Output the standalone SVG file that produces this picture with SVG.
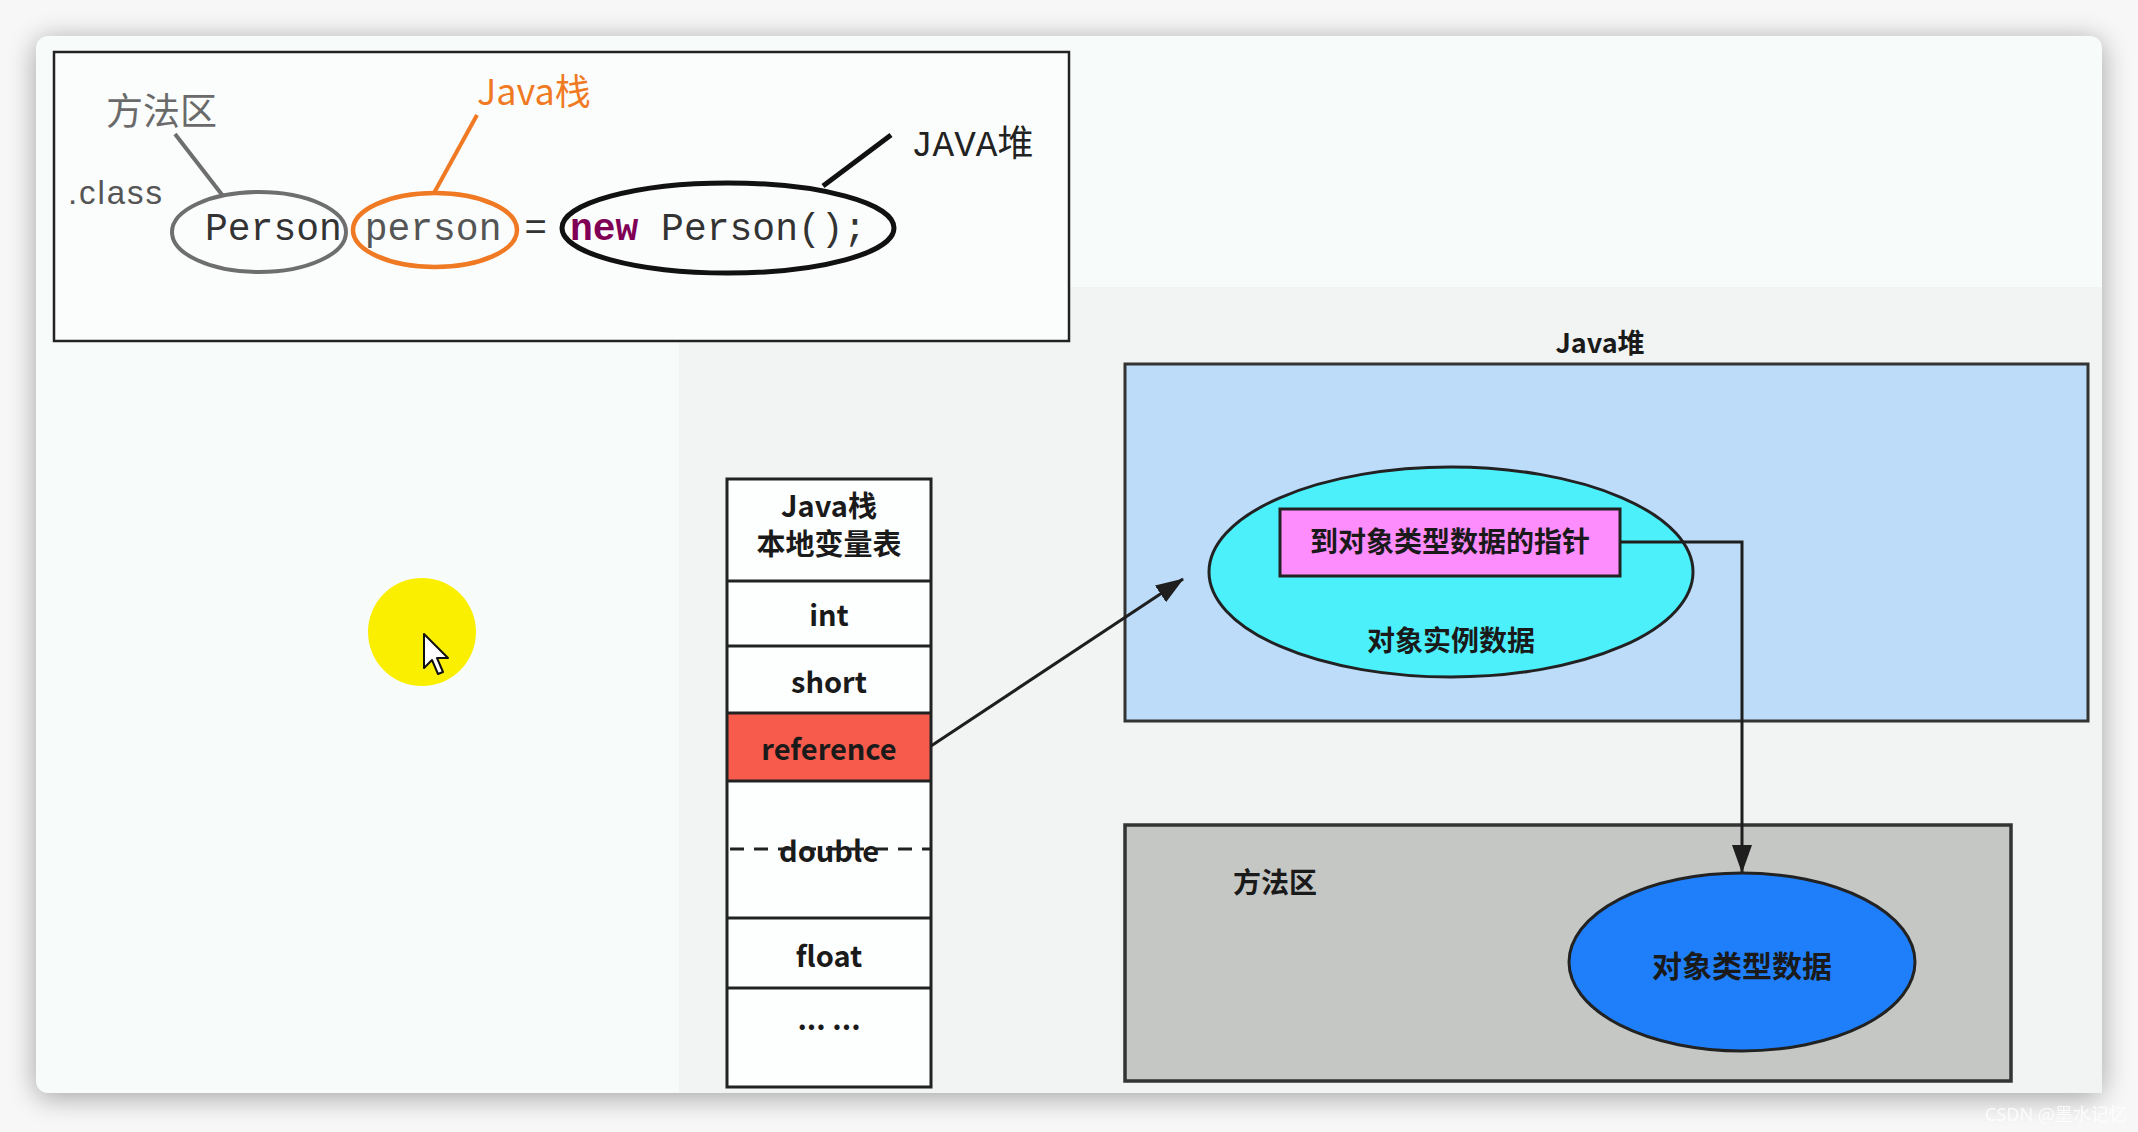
<svg xmlns="http://www.w3.org/2000/svg" width="2138" height="1132" viewBox="0 0 2138 1132">
  <defs>
    <filter id="shadow" x="-5%" y="-5%" width="110%" height="110%">
      <feGaussianBlur stdDeviation="14"/>
    </filter>
    <marker id="arrow" viewBox="0 0 28 20" refX="27" refY="10" markerWidth="28" markerHeight="20" markerUnits="userSpaceOnUse" orient="auto">
      <path d="M0,0 L28,10 L0,20 Z" fill="#1e1e1e"/>
    </marker>
    <style>
      .cjk { font-family: "Noto Sans CJK SC", "Liberation Sans", sans-serif; }
      .mono { font-family: "Liberation Mono", "DejaVu Sans Mono", monospace; }
      .cell { fill: none; stroke: #222; stroke-width: 3; }
      .cellText { font-family: "Noto Sans CJK SC", "Liberation Sans", sans-serif; font-weight: bold; font-size: 29px; fill: #1a1a1a; text-anchor: middle; }
      .lbl { font-family: "Noto Sans CJK SC", sans-serif; font-weight: bold; fill: #1a1a1a; text-anchor: middle; }
      .conn { fill: none; stroke: #1e1e1e; stroke-width: 3; }
    </style>
  </defs>

  <!-- window background and panel -->
  <rect x="0" y="0" width="2138" height="1132" fill="#f7f7f7"/>
  <rect x="36" y="40" width="2066" height="1057" rx="12" fill="#000" opacity="0.35" filter="url(#shadow)"/>
  <rect x="36" y="36" width="2066" height="1057" rx="12" fill="#f7fbf9"/>
  <polygon points="1070,287 2102,287 2102,1093 679,1093 679,342 1070,342" fill="#f1f4f2"/>

  <!-- top code box -->
  <g id="code-box">
    <rect x="54" y="52" width="1015" height="289" fill="#fbfdfc" stroke="#222" stroke-width="2.5"/>
    <text x="106" y="125" class="cjk" font-size="37" fill="#6a6a6a">方法区</text>
    <text x="68" y="204" font-family="Liberation Sans, sans-serif" font-size="33" fill="#555" textLength="94">.class</text>
    <text x="477" y="105" class="cjk" font-size="36" fill="#f07a24">Java栈</text>
    <text x="911" y="156" class="mono" font-size="36" fill="#222">JAVA<tspan class="cjk">堆</tspan></text>
    <ellipse cx="259" cy="232" rx="87" ry="40" fill="none" stroke="#6e6e6e" stroke-width="4"/>
    <ellipse cx="435" cy="230" rx="82" ry="37" fill="none" stroke="#f07a24" stroke-width="4.5"/>
    <ellipse cx="728" cy="228" rx="166" ry="45" fill="none" stroke="#111" stroke-width="5"/>
    <text x="205" y="240" class="mono" font-size="38" fill="#333">Person<tspan fill="#555"> person</tspan> = <tspan fill="#7f0055" font-weight="bold">new</tspan> Person();</text>
  </g>

  <!-- pointer highlight -->
  <g id="cursor">
    <circle cx="422" cy="632" r="54" fill="#fbef00"/>
    <path d="M424,634 L424,668 L432,660 L438,674 L443,672 L437,658 L448,658 Z" fill="#ffffff" stroke="#111" stroke-width="2" stroke-linejoin="round"/>
  </g>

  <!-- Java stack local variable table -->
  <g id="stack-table">
    <rect x="727" y="479" width="204" height="608" fill="#fdfefe"/>
    <rect x="727" y="713" width="204" height="68" fill="#f65b4c"/>
    <rect x="727" y="479" width="204" height="608" class="cell"/>
    <line x1="727" y1="581" x2="931" y2="581" class="cell"/>
    <line x1="727" y1="646" x2="931" y2="646" class="cell"/>
    <line x1="727" y1="713" x2="931" y2="713" class="cell"/>
    <line x1="727" y1="781" x2="931" y2="781" class="cell"/>
    <line x1="727" y1="918" x2="931" y2="918" class="cell"/>
    <line x1="727" y1="988" x2="931" y2="988" class="cell"/>
    <text x="829" y="517" class="cellText" font-size="25">Java栈</text>
    <text x="829" y="555" class="cellText" font-size="26">本地变量表</text>
    <text x="829" y="626" class="cellText">int</text>
    <text x="829" y="693" class="cellText">short</text>
    <text x="829" y="760" class="cellText">reference</text>
    <text x="829" y="862" class="cellText">double</text>
    <line x1="730" y1="849" x2="931" y2="849" stroke="#222" stroke-width="3" stroke-dasharray="14,10"/>
    <text x="829" y="967" class="cellText">float</text>
    <text x="829" y="1030" class="cellText" font-size="22">... ...</text>
  </g>

  <!-- Java heap -->
  <g id="java-heap">
    <text x="1600" y="353" class="lbl" font-size="27">Java堆</text>
    <rect x="1125" y="364" width="963" height="357" fill="#bddcfa" stroke="#333" stroke-width="3"/>
  </g>
  <g id="instance-data">
    <ellipse cx="1451" cy="572" rx="242" ry="105" fill="#4cf0fa" stroke="#222" stroke-width="3"/>
    <text x="1451" y="651" class="lbl" font-size="28">对象实例数据</text>
  </g>
  <g id="type-pointer">
    <rect x="1280" y="509" width="340" height="67" fill="#fd8cfc" stroke="#222" stroke-width="3"/>
    <text x="1450" y="552" class="lbl" font-size="28">到对象类型数据的指针</text>
  </g>

  <!-- Method area -->
  <g id="method-area">
    <rect x="1125" y="825" width="886" height="256" fill="#c5c7c4" stroke="#333" stroke-width="3.5"/>
    <text x="1275" y="893" class="lbl" font-size="28">方法区</text>
  </g>
  <g id="type-data">
    <ellipse cx="1742" cy="962" rx="173" ry="89" fill="#1f7ffa" stroke="#222" stroke-width="3"/>
    <text x="1742" y="977" class="lbl" font-size="30">对象类型数据</text>
  </g>

  <!-- connectors -->
  <g id="connectors">
    <line x1="175" y1="134" x2="223" y2="196" stroke="#6e6e6e" stroke-width="4"/>
    <line x1="477" y1="115" x2="434" y2="193" stroke="#f07a24" stroke-width="4"/>
    <line x1="891" y1="135" x2="823" y2="186" stroke="#111" stroke-width="5"/>
    <line x1="931" y1="746" x2="1183" y2="579" class="conn" marker-end="url(#arrow)"/>
    <polyline points="1620,542 1742,542 1742,872" class="conn" marker-end="url(#arrow)"/>
  </g>

  <text x="1985" y="1121" font-family="Noto Sans, sans-serif" font-size="18" fill="#ffffff" opacity="0.8">CSDN <tspan class="cjk">@墨水记忆</tspan></text>
</svg>
